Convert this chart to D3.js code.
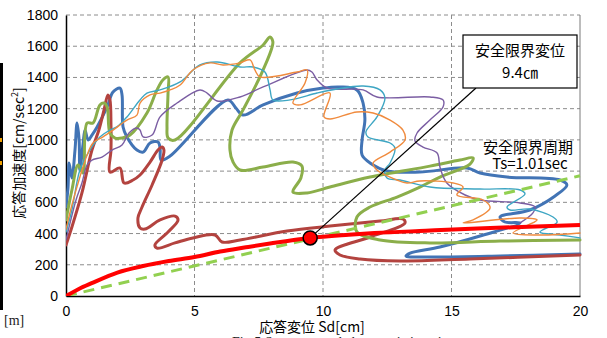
<!DOCTYPE html>
<html><head><meta charset="utf-8">
<script src="https://cdn.jsdelivr.net/npm/d3@7"></script>
<style>
html,body{margin:0;padding:0;background:#fff;}
svg{display:block;}
</style></head>
<body>
<svg id="chart" width="607" height="338"></svg>
<script>
// ---- data (Sd [cm], Sa [cm/sec^2]) ----
const xTicks = [0, 5, 10, 15, 20];
const yTicks = [0, 200, 400, 600, 800, 1000, 1200, 1400, 1600, 1800];

const seriesBlue = [[0,570],[0.08,698],[0.12,852],[0.23,756],[0.35,935],[0.43,1108],[0.51,999],[0.54,807],[0.66,967],[0.74,1063],[0.86,999],[1.01,1031],[1.21,1083],[1.60,1211],[1.83,1307],[2.10,1332],[2.18,1288],[2.22,1083],[2.37,1019],[2.76,935],[3.00,922],[3.27,980],[3.58,987],[3.66,948],[3.70,871],[4.05,897],[6.30,1256],[6.61,1204],[6.89,1159],[7.67,1224],[8.99,1300],[10.0,1332],[10.66,1339],[11.32,1320],[11.56,1236],[11.63,1127],[11.52,999],[11.52,903],[11.83,852],[12.49,801],[13.77,794],[15.60,820],[16.11,788],[17.16,762],[19.22,743],[19.49,711],[19.03,641],[18.05,551],[16.89,506],[17.08,474],[17.67,468],[16.11,384],[14.55,314],[13.39,275],[13.23,256],[14.16,250],[16.89,256],[20,269]];

const seriesRed = [[0,327],[0.23,442],[0.62,660],[1.01,935],[1.28,1063],[1.48,1192],[1.63,1288],[1.71,1256],[1.75,1095],[1.75,935],[1.71,794],[2.10,820],[2.26,724],[2.61,743],[2.88,775],[3.27,858],[3.58,935],[3.74,954],[3.81,935],[3.74,871],[3.35,711],[2.96,570],[2.80,500],[2.88,436],[3.07,429],[3.66,487],[4.24,512],[4.36,487],[3.97,410],[3.46,327],[3.54,307],[4.24,340],[4.94,372],[5.80,391],[6.07,346],[6.77,359],[8.60,416],[10.27,448],[12.22,480],[13.11,493],[13.19,468],[11.83,378],[10.47,295],[10.66,263],[11.44,237],[13.0,224],[15.72,237],[20,263]];

const seriesGreen = [[0,487],[0.23,679],[0.47,839],[0.66,788],[0.82,1108],[1.05,1108],[1.32,1224],[1.48,1236],[1.60,1211],[1.71,1044],[1.91,1012],[2.18,1012],[2.49,1031],[3.15,1172],[3.54,1320],[3.77,1384],[3.97,1403],[3.97,1300],[3.93,1083],[3.97,1012],[4.24,999],[6.77,1493],[7.67,1608],[7.94,1659],[8.05,1627],[7.67,1448],[6.89,1192],[6.46,1063],[6.38,935],[6.50,858],[6.77,807],[7.67,826],[8.83,858],[9.18,832],[9.14,756],[8.83,666],[9.38,660],[10.27,698],[11.83,762],[14.16,832],[15.33,871],[15.84,884],[15.72,845],[14.55,762],[13.77,698],[12.88,634],[11.83,570],[11.32,506],[11.32,410],[12.22,359],[14.16,340],[16.89,352],[20,359]];

const seriesPurple = [[0,359],[0.12,442],[0.39,615],[0.62,724],[0.82,839],[1.01,871],[1.40,890],[1.79,935],[2.18,967],[2.45,1044],[2.76,1076],[2.88,1063],[3.00,1019],[3.35,1031],[3.66,1147],[4.32,1236],[5.21,1320],[5.49,1300],[5.88,1249],[6.77,1275],[7.67,1339],[9.38,1448],[9.57,1435],[9.77,1384],[10.16,1332],[11.56,1320],[12.10,1275],[14.16,1275],[14.67,1256],[14.67,1211],[14.16,1127],[13.66,1044],[13.58,993],[13.89,954],[14.44,916],[14.55,826],[14.82,724],[15.53,647],[16.11,615],[17.67,596],[18.25,570],[18.17,532],[17.67,468]];

const seriesAqua = [[0,410],[0.23,551],[0.54,807],[0.93,935],[1.32,1019],[1.71,1063],[1.98,1083],[2.37,1147],[2.88,1256],[3.15,1300],[3.66,1320],[4.44,1371],[5.21,1480],[5.88,1499],[6.77,1467],[7.28,1467],[7.74,1435],[7.94,1320],[8.05,1256],[8.72,1256],[9.77,1300],[10.54,1326],[11.56,1345],[12.22,1320],[12.41,1268],[12.10,1147],[11.67,1051],[11.75,1019],[12.61,980],[12.80,948],[12.61,852],[12.41,807],[12.49,756],[13.0,743],[14.16,698],[16.11,685],[17.67,679],[17.86,653],[17.16,570],[17.28,551],[18.05,557],[18.95,506],[19.11,474],[18.44,410],[19.22,391],[20,372]];

const seriesOrange = [[0,429],[0.23,583],[0.54,762],[0.82,903],[1.05,980],[1.44,1019],[1.83,1063],[2.37,1127],[2.76,1159],[2.88,1236],[3.27,1288],[3.66,1300],[4.05,1320],[4.44,1352],[4.94,1448],[5.60,1493],[6.11,1480],[6.77,1493],[7.16,1512],[7.35,1448],[7.55,1403],[8.99,1435],[9.38,1448],[9.30,1364],[8.83,1236],[9.11,1224],[10.27,1300],[10.04,1147],[10.27,1134],[11.32,1179],[11.95,1172],[12.61,1127],[13.11,1063],[13.19,999],[12.61,922],[11.95,852],[12.10,807],[12.88,743],[13.27,724],[13.77,737],[15.06,724],[15.45,698],[15.21,647],[16.23,615],[16.50,564],[15.84,487],[15.45,468],[17.67,500],[18.33,487],[17.39,404],[18.44,391],[20,404]];

// safety limit (capacity) spectrum and period line
const safetySpectrum = [[0,0],[0.5,45],[1,82],[2,150],[3,192],[4,224],[5,250],[6,285],[7,312],[8,338],[9.5,372],[11,392],[12,403],[14,418],[16,432],[18,444],[20,455]];
const periodLine = [[0,0],[20,770]];
const limitPoint = [9.5, 372];

// ---- layout ----
const svg = d3.select("#chart");
const L = 66, R = 580, T = 15, B = 296;
const x = d3.scaleLinear().domain([0, 20]).range([L, R]);
const y = d3.scaleLinear().domain([0, 1800]).range([B, T]);
const font = "'Liberation Sans','Noto Sans CJK JP',sans-serif";
const jfont = "'Noto Sans CJK JP','Liberation Sans',sans-serif";

// left black bar fragment and [m]
svg.append("rect").attr("x",0).attr("y",63).attr("width",3).attr("height",247).attr("fill","#000");
svg.append("rect").attr("x",0).attr("y",138).attr("width",2).attr("height",4).attr("fill","#f0a000");
svg.append("rect").attr("x",0).attr("y",161).attr("width",2).attr("height",4).attr("fill","#f0a000");
svg.append("text").attr("x",4).attr("y",325).attr("font-family","'Liberation Serif',serif").attr("font-size",14).attr("fill","#222").text("[m]");
svg.append("text").attr("x",232).attr("y",347).attr("font-family","'Liberation Serif',serif").attr("font-size",14).attr("fill","#222").text("Fig.5 Spectrum and characteristic points");

// grid
const grid = svg.append("g");
grid.selectAll("line.h").data(yTicks.filter(d => d > 0)).join("line")
  .attr("x1", L).attr("x2", R).attr("y1", d => y(d)).attr("y2", d => y(d))
  .attr("stroke", "#8c8c8c").attr("stroke-width", 1).attr("stroke-dasharray", "4,3");
grid.selectAll("line.v").data(xTicks.filter(d => d > 0 && d < 20)).join("line")
  .attr("x1", d => x(d)).attr("x2", d => x(d)).attr("y1", T).attr("y2", B)
  .attr("stroke", "#8c8c8c").attr("stroke-width", 1).attr("stroke-dasharray", "4,3");
svg.append("line").attr("x1", R).attr("x2", R).attr("y1", T).attr("y2", B).attr("stroke", "#7a7a7a").attr("stroke-width", 1);

// axes
const xAxis = d3.axisBottom(x).tickValues(xTicks).tickSize(0).tickPadding(10).tickFormat(d3.format("d"));
const yAxis = d3.axisLeft(y).tickValues(yTicks).tickSize(0).tickPadding(8).tickFormat(d3.format("d"));
const gx = svg.append("g").attr("transform", `translate(0,${B})`).call(xAxis);
const gy = svg.append("g").attr("transform", `translate(${L},0)`).call(yAxis);
[gx, gy].forEach(g => {
  g.select(".domain").attr("stroke", "#000").attr("stroke-width", 1.5);
  g.selectAll("text").attr("font-family", font).attr("font-size", 14).attr("fill", "#000");
});

// clip
svg.append("clipPath").attr("id", "clip").append("rect").attr("x", L).attr("y", T - 2).attr("width", R - L + 2).attr("height", B - T + 2);
const plot = svg.append("g").attr("clip-path", "url(#clip)");

const line = d3.line().x(d => x(d[0])).y(d => y(d[1])).curve(d3.curveCatmullRom.alpha(0.5));
const series = [
  {data: seriesBlue, color: "#4274b5", w: 3},
  {data: seriesRed, color: "#b3433f", w: 3},
  {data: seriesGreen, color: "#8bae4a", w: 3},
  {data: seriesPurple, color: "#7b5ea3", w: 1.4},
  {data: seriesAqua, color: "#3ea6c3", w: 1.4},
  {data: seriesOrange, color: "#f08b3e", w: 1.4}
];
plot.selectAll("path.s").data(series).join("path")
  .attr("d", d => line(d.data)).attr("fill", "none")
  .attr("stroke", d => d.color).attr("stroke-width", d => d.w)
  .attr("stroke-linejoin", "round").attr("stroke-linecap", "round");

// period line (dashed)
plot.append("path").attr("d", d3.line().x(d => x(d[0])).y(d => y(d[1]))(periodLine))
  .attr("fill", "none").attr("stroke", "#92d050").attr("stroke-width", 3).attr("stroke-dasharray", "11,7");

// safety spectrum
plot.append("path").attr("d", d3.line().x(d => x(d[0])).y(d => y(d[1])).curve(d3.curveMonotoneX)(safetySpectrum))
  .attr("fill", "none").attr("stroke", "#ff0000").attr("stroke-width", 4);

// annotation
const boxX = 463, boxY = 35, boxW = 114, boxH = 53;
svg.append("line").attr("x1", x(limitPoint[0])).attr("y1", y(limitPoint[1])).attr("x2", 476).attr("y2", boxY + boxH)
  .attr("stroke", "#000").attr("stroke-width", 1.2);
svg.append("circle").attr("cx", x(limitPoint[0])).attr("cy", y(limitPoint[1])).attr("r", 7)
  .attr("fill", "#ff0000").attr("stroke", "#000").attr("stroke-width", 1.5);
svg.append("rect").attr("x", boxX).attr("y", boxY).attr("width", boxW).attr("height", boxH)
  .attr("fill", "#fff").attr("stroke", "#000").attr("stroke-width", 1.2);
const boxText = svg.append("text").attr("text-anchor", "middle")
  .attr("font-family", jfont).attr("font-size", 15).attr("fill", "#000");
boxText.append("tspan").attr("x", boxX + boxW / 2).attr("y", 56).text("安全限界変位");
boxText.append("tspan").attr("x", boxX + boxW / 2).attr("y", 78).text("9.4㎝");

const tsText = svg.append("text").attr("text-anchor", "middle")
  .attr("font-family", jfont).attr("font-size", 15).attr("fill", "#000");
tsText.append("tspan").attr("x", 528).attr("y", 153).text("安全限界周期");
tsText.append("tspan").attr("x", 530).attr("y", 169).text("Ts=1.01sec");

// axis titles
svg.append("text").attr("x", 312).attr("y", 332).attr("text-anchor", "middle")
  .attr("font-family", jfont).attr("font-size", 14).attr("fill", "#000").text("応答変位 Sd[cm]");
const yt = svg.append("text").attr("transform", "translate(24,153) rotate(-90)").attr("text-anchor", "middle")
  .attr("font-family", jfont).attr("font-size", 14).attr("fill", "#000");
yt.append("tspan").text("応答加速度[cm/sec");
yt.append("tspan").attr("font-size", 9).attr("dy", -6).text("2");
yt.append("tspan").attr("dy", 6).text("]");
</script>
</body></html>
